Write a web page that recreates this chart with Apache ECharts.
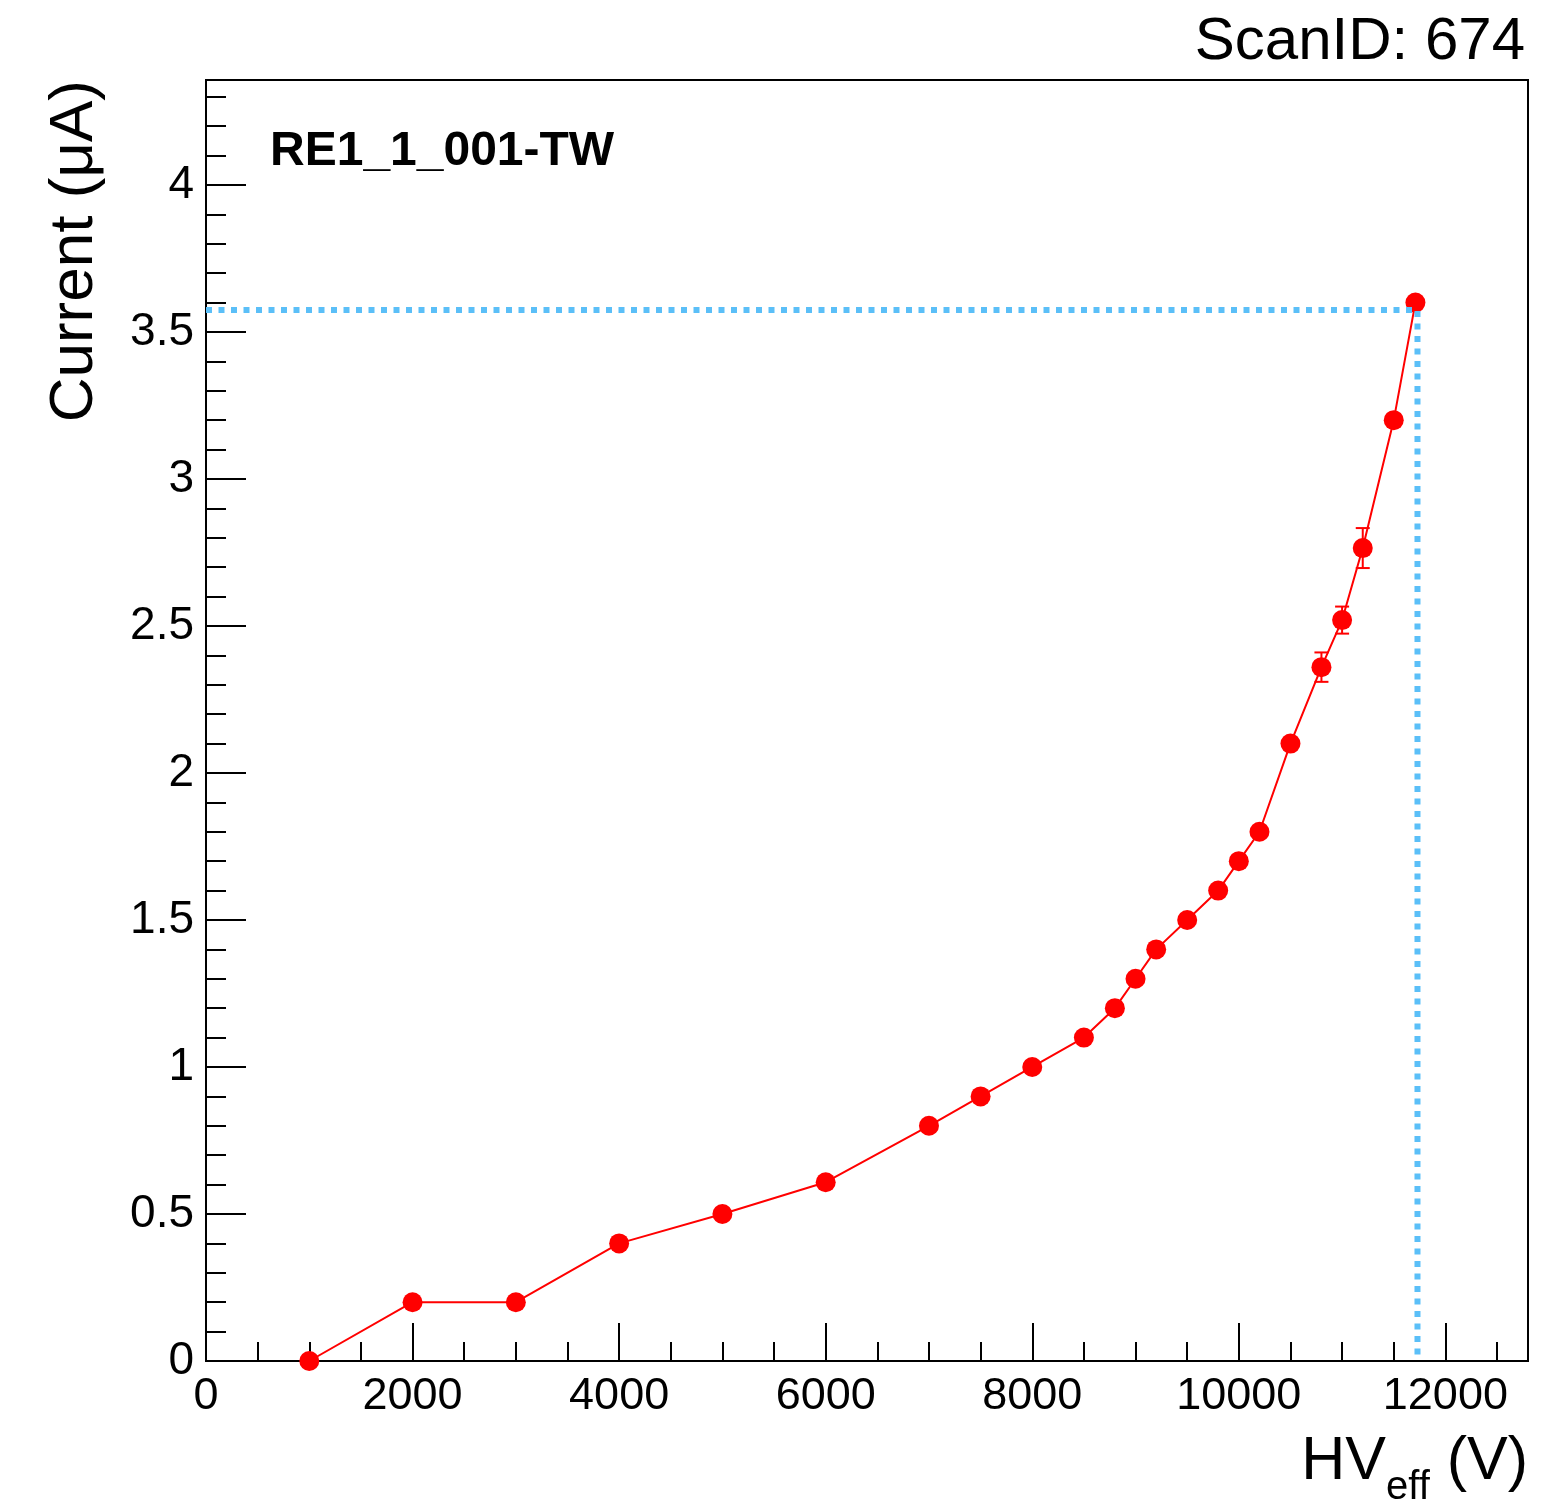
<!DOCTYPE html>
<html>
<head>
<meta charset="utf-8">
<script src="https://cdn.jsdelivr.net/npm/echarts@6/dist/echarts.min.js"></script>
<style>
html,body{margin:0;padding:0;background:#fff;}
#chart{width:1542px;height:1510px;}
</style>
</head>
<body>
<div id="chart"></div>
<script>
// ---- data ----
const hvValues = [1000, 2000, 3000, 4000, 5000, 6000, 7000, 7500, 8000, 8500, 8800, 9000, 9200, 9500, 9800, 10000, 10200, 10500, 10800, 11000, 11200, 11500, 11710];
const currentValues = [0, 0.2, 0.2, 0.4, 0.5, 0.608, 0.8, 0.9, 1.0, 1.1, 1.2, 1.3, 1.4, 1.5, 1.6, 1.7, 1.8, 2.1, 2.36, 2.52, 2.765, 3.2, 3.6];
const currentErrors = [0, 0, 0, 0, 0, 0, 0, 0, 0, 0, 0, 0, 0, 0, 0, 0, 0, 0, 0.05, 0.046, 0.068, 0, 0];
const refHv = [0, 11730, 11730];
const refCurrent = [3.575, 3.575, 0];
const titleText = 'ScanID: 674';
const chamberLabel = 'RE1_1_001-TW';
const xMajorInterval = 2000, xMinorInterval = 500, xMin = 0, xMax = 12800;
const yMajorInterval = 0.5, yMinorInterval = 0.1, yMin = 0, yMax = 4.357;

const FONT = 'Liberation Sans, Arial, Helvetica, sans-serif';
const pts = hvValues.map((x, i) => [x, currentValues[i]]);
const errPts = hvValues.map((x, i) => [x, currentValues[i], currentErrors[i]]).filter(d => d[2] > 0);
const refPts = refHv.map((x, i) => [x, refCurrent[i]]);

const chart = echarts.init(document.getElementById('chart'), null, {renderer: 'canvas'});

const commonX = {type: 'value', min: xMin, max: xMax, position: 'bottom', splitLine: {show: false}};
const commonY = {type: 'value', min: yMin, max: yMax, position: 'left', splitLine: {show: false}};

chart.setOption({
  animation: false,
  backgroundColor: '#fff',
  title: [
    {text: titleText, right: 17, top: 12, padding: 0,
     textStyle: {fontFamily: FONT, fontSize: 60, fontWeight: 'normal', color: '#000'}},
    {text: chamberLabel, left: 270, top: 128, padding: 0,
     textStyle: {fontFamily: FONT, fontSize: 48, fontWeight: 'bold', color: '#000'}}
  ],
  grid: {left: 206, top: 80, right: 14, bottom: 149, show: true, borderColor: '#000', borderWidth: 2,
         backgroundColor: 'transparent', containLabel: false, outerBoundsMode: 'none'},
  xAxis: [
    Object.assign({}, commonX, {
      interval: xMajorInterval,
      axisLine: {show: true, onZero: false, lineStyle: {color: '#000', width: 2}},
      axisTick: {show: true, inside: true, length: 38, lineStyle: {color: '#000', width: 2}},
      axisLabel: {show: true, margin: 13, showMaxLabel: false, fontFamily: FONT, fontSize: 45, color: '#000',
        formatter: function (v) { return String(v); }},
      name: '{a|HV}{b|eff}{a| (V)}',
      nameLocation: 'end',
      nameGap: 0,
      nameTextStyle: {align: 'right', verticalAlign: 'top', padding: [55, 0, 0, 0],
        fontFamily: FONT, fontSize: 60, color: '#000',
        rich: {
          a: {fontFamily: FONT, fontSize: 61, color: '#000'},
          b: {fontFamily: FONT, fontSize: 40, color: '#000', padding: [52, 0, 0, 0]}
        }}
    }),
    Object.assign({}, commonX, {
      interval: xMinorInterval,
      axisLine: {show: false},
      axisTick: {show: true, inside: true, length: 19, lineStyle: {color: '#000', width: 2}},
      axisLabel: {show: false}
    })
  ],
  yAxis: [
    Object.assign({}, commonY, {
      interval: yMajorInterval,
      axisLine: {show: true, onZero: false, lineStyle: {color: '#000', width: 2}},
      axisTick: {show: true, inside: true, length: 40, lineStyle: {color: '#000', width: 2}},
      axisLabel: {show: true, margin: 12, showMaxLabel: false, fontFamily: FONT, fontSize: 46, color: '#000',
        formatter: function (v) { return String(v); }},
      name: 'Current (μA)',
      nameLocation: 'end',
      nameRotate: 90,
      nameGap: 0,
      nameTextStyle: {align: 'right', verticalAlign: 'bottom', padding: [0, 0, 100, 0],
        fontFamily: FONT, fontSize: 62, color: '#000'}
    }),
    Object.assign({}, commonY, {
      interval: yMinorInterval,
      axisLine: {show: false},
      axisTick: {show: true, inside: true, length: 20, lineStyle: {color: '#000', width: 2}},
      axisLabel: {show: false}
    })
  ],
  series: [
    {
      type: 'line', xAxisIndex: 0, yAxisIndex: 0, data: pts,
      symbol: 'circle', symbolSize: 20, showSymbol: true,
      lineStyle: {color: '#ff0000', width: 2},
      itemStyle: {color: '#ff0000'},
      z: 3
    },
    {
      type: 'custom', xAxisIndex: 0, yAxisIndex: 0, data: errPts, z: 4,
      renderItem: function (params, api) {
        const x = api.value(0), y = api.value(1), e = api.value(2);
        const top = api.coord([x, y + e]);
        const bot = api.coord([x, y - e]);
        const cap = 7;
        const st = {stroke: '#ff0000', lineWidth: 2};
        return {type: 'group', children: [
          {type: 'line', shape: {x1: top[0], y1: top[1], x2: bot[0], y2: bot[1]}, style: st},
          {type: 'line', shape: {x1: top[0] - cap, y1: top[1], x2: top[0] + cap, y2: top[1]}, style: st},
          {type: 'line', shape: {x1: bot[0] - cap, y1: bot[1], x2: bot[0] + cap, y2: bot[1]}, style: st}
        ]};
      }
    },
    {
      type: 'line', xAxisIndex: 0, yAxisIndex: 0, data: refPts,
      symbol: 'none', z: 5,
      lineStyle: {color: '#5bbff8', width: 6, type: [6, 6.5], cap: 'butt'}
    }
  ]
});
</script>
</body>
</html>
